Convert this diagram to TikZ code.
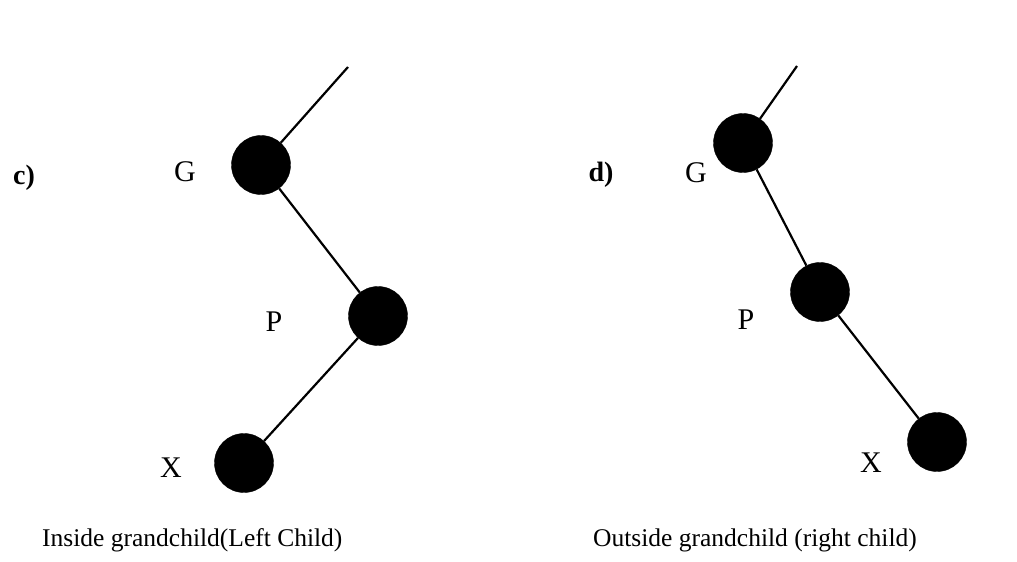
\documentclass[tikz,border=0pt]{standalone}
\usepackage{fontspec}
\setmainfont{Liberation Serif}
\begin{document}
\begin{tikzpicture}[x=1pt,y=-1pt,
  vtx/.style={circle,fill=black,draw=black,minimum size=59pt,inner sep=0pt},
  edge/.style={line width=2.2pt,black},
  lbl/.style={font=\fontsize{30}{34}\selectfont,inner sep=0pt},
  tag/.style={font=\fontsize{28}{32}\selectfont\bfseries,inner sep=0pt},
  captext/.style={font=\fontsize{25.5}{30}\selectfont,inner sep=0pt,anchor=west}]
\useasboundingbox (0,0) rectangle (1017,562);
% left tree
\coordinate (lt) at (348,67);
\node[vtx] (lG) at (261,165) {};
\node[vtx] (lP) at (378,316) {};
\node[vtx] (lX) at (244,463) {};
\draw[edge] (lt) -- (lG);
\draw[edge] (lG) -- (lP);
\draw[edge] (lP) -- (lX);
\node[tag] (lc) at (24,178) {c)};
\node[lbl] (lg) at (185,172) {G};
\node[lbl] (lp) at (274,322) {P};
\node[lbl] (lx) at (171,468) {X};
\node[captext] (lcap) at (42,540) {Inside grandchild(Left Child)};
% right tree
\coordinate (rt) at (797,66);
\node[vtx] (rG) at (743,143) {};
\node[vtx] (rP) at (820,292) {};
\node[vtx] (rX) at (937,442) {};
\draw[edge] (rt) -- (rG);
\draw[edge] (rG) -- (rP);
\draw[edge] (rP) -- (rX);
\node[tag] (rd) at (601,175) {d)};
\node[lbl] (rg) at (696,173) {G};
\node[lbl] (rp) at (746,320) {P};
\node[lbl] (rx) at (871,463) {X};
\node[captext] (rcap) at (593,540) {Outside grandchild (right child)};
\end{tikzpicture}
\end{document}
